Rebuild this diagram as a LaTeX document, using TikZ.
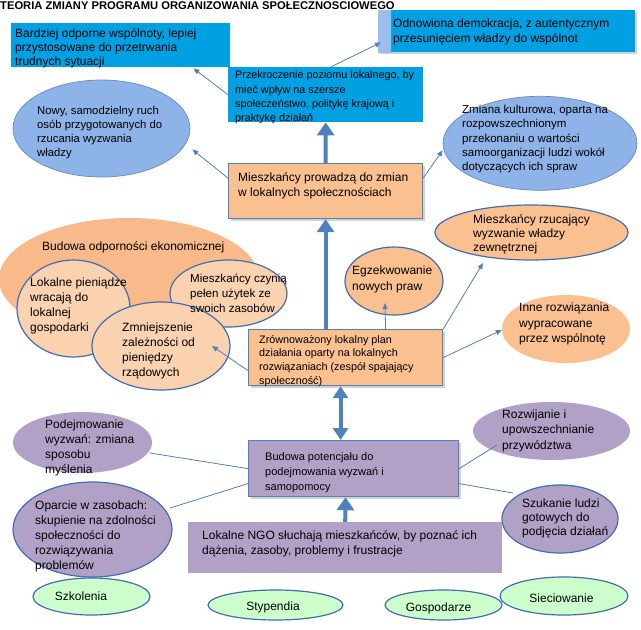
\documentclass[tikz,border=0pt]{standalone}
\usepackage{fontspec}
\setmainfont{Liberation Sans}
\usepackage{tikz}
\usetikzlibrary{shapes.geometric}
\usetikzlibrary{arrows.meta}
\usetikzlibrary{shadows}

\definecolor{boxblue}{RGB}{0,160,227}
\definecolor{stripblue}{RGB}{160,190,235}
\definecolor{ellblue}{RGB}{141,179,233}
\definecolor{boxorange}{RGB}{250,192,144}
\definecolor{ellorange}{RGB}{248,186,138}
\definecolor{ellpeach}{RGB}{251,210,176}
\definecolor{boxpurple}{RGB}{178,161,199}
\definecolor{ellgreen}{RGB}{204,255,204}
\definecolor{edge}{RGB}{65,110,175}
\definecolor{arrowblue}{RGB}{79,129,189}

\newcommand{\fs}[2]{\fontsize{#1}{#2}\selectfont}

\begin{document}
\begin{tikzpicture}[x=1pt,y=-1pt,
  box/.style={rectangle, inner sep=0pt, anchor=north west},
  ell/.style={ellipse, inner sep=0pt},
  txt/.style={inner sep=0pt, align=left, anchor=north west},
  rim/.style={draw=edge, line width=1.2pt},
  shadowed/.style={drop shadow={shadow xshift=2pt, shadow yshift=-2pt, opacity=.35}},
  bigarrow/.style={-{Triangle[width=17pt,length=13pt]}, color=arrowblue, line width=4pt},
  dblarrow/.style={{Triangle[width=15pt,length=12pt]}-{Triangle[width=15pt,length=12pt]}, color=arrowblue, line width=4pt},
  smallarrow/.style={-{Triangle[width=5pt,length=6pt]}, color=arrowblue, line width=.8pt},
  link/.style={color=arrowblue, line width=.8pt}
]
\fill[white] (0,0) rectangle (641,630);
\useasboundingbox (0,0) rectangle (641,630);

\node(T)[inner sep=0pt, anchor=base west, font=\bfseries\fs{11.2}{13}] at (0,9.5) {TEORIA ZMIANY PROGRAMU ORGANIZOWANIA SPOŁECZNOSCIOWEGO};

% top row
\node(a)[box, fill=boxblue, minimum width=219pt, minimum height=44pt,
  label={[txt, font=\fs{12}{14}, xshift=4pt, yshift=-5pt]north west:{Bardziej odporne wspólnoty, lepiej\\przystosowane do przetrwania\\trudnych sytuacji}}] at (11,23) {};
\node(b)[box, fill=boxblue, shadowed, minimum width=257pt, minimum height=42pt,
  path picture={\shade[left color=stripblue, right color=boxblue] (path picture bounding box.south west) rectangle ([xshift=13pt]path picture bounding box.north west);},
  label={[txt, font=\fs{12}{14.5}, xshift=15pt, yshift=-9pt]north west:{Odnowiona demokracja, z autentycznym\\przesunięciem władzy do wspólnot}}] at (378,10) {};
\node(c)[box, fill=boxblue, minimum width=195pt, minimum height=55pt,
  label={[txt, font=\fs{10.8}{14.3}, xshift=7pt, yshift=-3.7pt]north west:{Przekroczenie poziomu lokalnego, by\\mieć wpływ na szersze\\społeczeństwo, politykę krajową i\\praktykę działań}}] at (228,67) {};

\node(d)[ell, fill=ellblue, draw=edge!80, line width=.7pt, minimum width=177pt, minimum height=97pt] at (101.5,128.5) {};
\node(dt)[txt, font=\fs{11.3}{14}, xshift=-64.5pt, yshift=22.5pt] at (d.center) {Nowy, samodzielny ruch\\osób przygotowanych do\\rzucania wyzwania\\władzy};
\node(e)[ell, fill=ellblue, draw=edge!80, line width=.7pt, minimum width=194pt, minimum height=94pt] at (540,143.3) {};
\node(et)[txt, font=\fs{11.5}{14.3}, xshift=-78pt, yshift=38.3pt] at (e.center) {Zmiana kulturowa, oparta na\\rozpowszechnionym\\przekonaniu o wartości\\samoorganizacji ludzi wokół\\dotyczących ich spraw};

\node(f)[box, fill=boxorange, draw=arrowblue, line width=1.2pt, shadowed, minimum width=194pt, minimum height=55pt,
  label={[txt, font=\fs{12}{15}, xshift=10pt, yshift=-9pt]north west:{Mieszkańcy prowadzą do zmian\\w lokalnych społecznościach}}] at (228,163) {};

% economic resilience
\node(g)[ell, fill=ellorange, minimum width=260pt, minimum height=122pt] at (129,279) {};
\node(gt)[txt, font=\fs{12}{15}, xshift=-87pt, yshift=37.3pt] at (g.center) {Budowa odporności ekonomicznej};
\node(h)[ell, fill=ellpeach, rim, minimum width=113pt, minimum height=97pt] at (73.5,308.5) {};
\node(ht)[txt, font=\fs{12}{15}, xshift=-43.5pt, yshift=30.8pt] at (h.center) {Lokalne pieniądze\\wracają do\\lokalnej\\gospodarki};
\node(i)[ell, fill=ellpeach, rim, minimum width=117pt, minimum height=67pt] at (228.5,293.5) {};
\node(j)[ell, fill=ellpeach, rim, minimum width=138pt, minimum height=88pt] at (161,346) {};
\node(jt)[txt, font=\fs{12}{15}, xshift=-39pt, yshift=23.7pt] at (j.center) {Zmniejszenie\\zależności od\\pieniędzy\\rządowych};
\node(it)[txt, font=\fs{11.6}{15}, xshift=-38.5pt, yshift=20.2pt] at (i.center) {Mieszkańcy czynią\\pełen użytek ze\\swoich zasobów};

\node(k)[box, fill=boxorange, draw=arrowblue, line width=1.2pt, shadowed, minimum width=194pt, minimum height=56pt,
  label={[txt, font=\fs{10.8}{13.7}, xshift=11pt, yshift=-6pt]north west:{Zrównoważony lokalny plan\\działania oparty na lokalnych\\rozwiązaniach (zespół spajający\\społeczność)}}] at (248,329) {};

\node(l)[ell, fill=boxorange, rim, minimum width=98pt, minimum height=68pt] at (394,281) {};
\node(lt)[txt, font=\fs{12}{16}, xshift=-42pt, yshift=15pt] at (l.center) {Egzekwowanie\\nowych praw};
\node(m)[ell, fill=boxorange, rim, minimum width=193pt, minimum height=55pt] at (531.5,232.5) {};
\node(mt)[txt, font=\fs{12}{14.3}, xshift=-58.5pt, yshift=18.5pt] at (m.center) {Mieszkańcy rzucający\\wyzwanie władzy\\zewnętrznej};
\node(n)[ell, fill=boxorange, minimum width=128pt, minimum height=68pt] at (566,329) {};
\node(nt)[txt, font=\fs{12}{15.5}, xshift=-47pt, yshift=26.3pt] at (n.center) {Inne rozwiązania\\wypracowane\\przez wspólnotę};

% capacity
\node(o)[box, fill=boxpurple, draw=arrowblue, line width=1.2pt, shadowed, minimum width=210pt, minimum height=56pt,
  label={[txt, font=\fs{11}{15}, xshift=17pt, yshift=-12pt]north west:{Budowa potencjału do\\podejmowania wyzwań i\\samopomocy}}] at (248,440) {};
\node(p)[box, fill=boxpurple, minimum width=314pt, minimum height=51pt,
  label={[txt, font=\fs{12}{15}, xshift=14pt, yshift=-8pt]north west:{Lokalne NGO słuchają mieszkańców, by poznać ich\\dążenia, zasoby, problemy i frustracje}}] at (188,522) {};

\node(q)[ell, fill=boxpurple, minimum width=139pt, minimum height=61pt] at (82.5,442.5) {};
\node(qt)[txt, font=\fs{12}{15}, xshift=-37.5pt, yshift=22.5pt] at (q.center) {Podejmowanie\\wyzwań: zmiana\\sposobu\\myślenia};
\node(r)[ell, fill=boxpurple, rim, minimum width=159pt, minimum height=95pt] at (92.5,529.5) {};
\node(rt)[txt, font=\fs{12}{15}, xshift=-57.5pt, yshift=28.5pt] at (r.center) {Oparcie w zasobach:\\skupienie na zdolności\\społeczności do\\rozwiązywania\\problemów};
\node(s)[ell, fill=boxpurple, minimum width=157pt, minimum height=58pt] at (551.5,431) {};
\node(st)[txt, font=\fs{12}{15.5}, xshift=-49.5pt, yshift=21.7pt] at (s.center) {Rozwijanie i\\upowszechnianie\\przywództwa};
\node(t)[ell, fill=boxpurple, rim, minimum width=116pt, minimum height=68pt] at (560,519) {};
\node(tt)[txt, font=\fs{12}{14.2}, xshift=-38pt, yshift=20.7pt] at (t.center) {Szukanie ludzi\\gotowych do\\podjęcia działań};

% bottom row
\node(u)[ell, fill=ellgreen, rim, minimum width=117pt, minimum height=37pt,
  label={[font=\fs{12}{14}, inner sep=0pt, xshift=-10.5pt]center:Szkolenia}] at (91.5,596.5) {};
\node(v)[ell, fill=ellgreen, rim, minimum width=135pt, minimum height=30pt,
  label={[font=\fs{12}{14}, inner sep=0pt, xshift=-2.5pt, yshift=-2pt]center:Stypendia}] at (275.5,605) {};
\node(w)[ell, fill=ellgreen, rim, minimum width=117pt, minimum height=30pt,
  label={[font=\fs{12}{14}, inner sep=0pt, xshift=-5pt, yshift=-3pt]center:Gospodarze}] at (443.5,605) {};
\node(x)[ell, fill=ellgreen, rim, minimum width=128pt, minimum height=38pt,
  label={[font=\fs{12}{14}, inner sep=0pt, xshift=-2.5pt, yshift=-2pt]center:Sieciowanie}] at (564,596) {};

\draw[bigarrow] (f.north) -- (c.south);
\draw[bigarrow] (k.north -| f.south) -- (f.south);
\draw[dblarrow] ([xshift=-5pt]k.south) -- ([xshift=-13pt]o.north);
\draw[bigarrow] (p.north) -- ([xshift=-8pt]o.south);

\draw[smallarrow] (c.west) -- ([xshift=-37pt,yshift=-1pt]a.south east);
\draw[smallarrow] ([xshift=5pt]c.north) -- ([xshift=3pt,yshift=10pt]b.south west);
\draw[smallarrow] ([yshift=13pt]f.west) -- ([xshift=2pt,yshift=-21pt]d.east);
\draw[smallarrow] ([yshift=13pt]f.east) -- ([yshift=-7pt]e.west);
\draw[smallarrow] ([yshift=-13pt]k.west) -- ([xshift=51pt]j.center);
\draw[smallarrow] ([xshift=40pt]k.north) -- ([xshift=-9pt,yshift=-22pt]l.center);
\draw[smallarrow] (k.north east) -- ([xshift=-48.5pt,yshift=-30.5pt]m.center);
\draw[smallarrow] (k.east) -- ([yshift=-1pt]n.west);

\draw[link] (o.west) -- ([xshift=67.5pt,yshift=-10.5pt]q.center);
\draw[link] ([yshift=-15pt]o.west) -- ([xshift=77.5pt,yshift=21.5pt]r.center);
\draw[link] (o.east) -- ([xshift=-54.5pt,yshift=-14pt]s.center);
\draw[link] ([yshift=-15pt]o.east) -- ([xshift=-47pt,yshift=26pt]t.center);
\end{tikzpicture}
\end{document}
